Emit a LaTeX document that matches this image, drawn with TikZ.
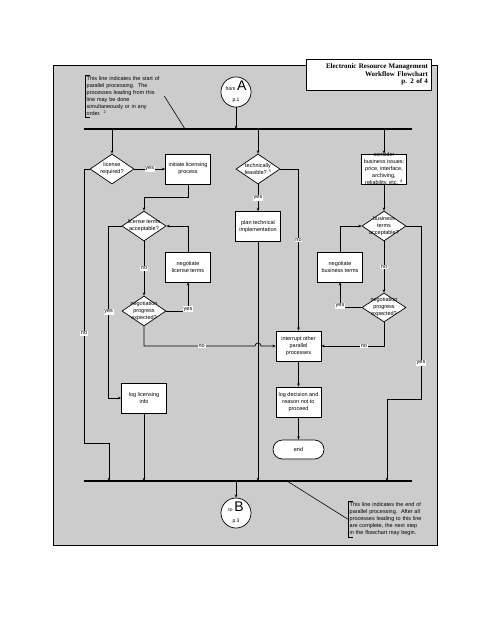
\documentclass[tikz,border=0pt]{standalone}
\usepackage{fontspec}
\setmainfont{Liberation Sans}
\newfontfamily\titlefont{Liberation Serif}
\usetikzlibrary{shapes.geometric,arrows.meta}

\definecolor{panelgray}{RGB}{204,204,204}
\newcommand{\smalltxt}{\fontsize{5.5}{7}\selectfont}
\newcommand{\tinytxt}{\fontsize{5}{6}\selectfont}
\newcommand{\bigletter}{\fontsize{14}{14}\selectfont}

\tikzset{
  box/.style={draw, fill=white, line width=0.7pt, minimum width=45pt, minimum height=30pt, inner sep=1pt, align=center, font=\smalltxt},
  decision/.style={diamond, draw, fill=white, line width=0.7pt, minimum width=44pt, minimum height=30pt, inner sep=0pt},
  inside/.style={font=\smalltxt, align=center, inner sep=0pt},
  lbl/.style={fill=white, inner sep=0.8pt, font=\smalltxt},
  arr/.style={-{Stealth[length=3.2pt,width=2.6pt]}, line width=0.7pt},
  bar/.style={line width=1.6pt},
  connector/.style={circle, draw, fill=white, line width=0.7pt, minimum size=30pt, inner sep=0pt, align=center},
  note/.style={font=\smalltxt, align=left, inner sep=1.5pt, anchor=north west},
}

\begin{document}
\begin{tikzpicture}[x=1pt, y=-1pt]
  % 全体の範囲
  \useasboundingbox (0,0) rectangle (495,640);

  % 灰色の背景
  \filldraw[fill=panelgray, draw=black, line width=0.8pt] (53,65) rectangle (437,545);

  % タイトル
  \node[draw, fill=white, line width=0.8pt, minimum width=125pt, minimum height=31pt,
        text width=119pt, align=right, inner sep=3pt,
        font=\titlefont\bfseries\fontsize{7}{7.5}\selectfont] (title) at (368.5,74.5)
        {Electronic Resource Management\\Workflow Flowchart\\p. 2 of 4};

  % 並列処理の線(上と下)
  \coordinate (tbL) at (84,129);
  \coordinate (tbR) at (412,129);
  \coordinate (bbL) at (84,481);
  \coordinate (bbR) at (412,481);
  \draw[bar] (tbL) -- (tbR);
  \draw[bar] (bbL) -- (bbR);

  % 接続記号
  \node[connector] (fromA) at (236,92) {{\tinytxt from}\,{\bigletter A}\\[-1pt]{\tinytxt p.1}};
  \node[connector] (toB) at (236,513) {{\tinytxt to}\,{\bigletter B}\\[-1pt]{\tinytxt p.3}};

  % 説明文
  \node[note, text width=76pt] (startnote) at (85,75)
    {This line indicates the start of\\parallel processing.\ \ The\\processes leading from this\\line may be done\\simultaneously or in any\\order. \textsuperscript{2}};
  \node[note, text width=82pt] (endnote) at (348,501)
    {This line indicates the end of\\parallel processing.\ \ After all\\processes leading to this line\\are complete, the next step\\in the flowchart may begin.};
  \draw[line width=0.7pt] ([xshift=5pt]startnote.north west) -- (startnote.north west) -- (startnote.south west) -- ([xshift=5pt]startnote.south west);
  \draw[line width=0.7pt] ([xshift=5pt]endnote.north west) -- (endnote.north west) -- (endnote.south west) -- ([xshift=5pt]endnote.south west);
  \coordinate (sbar) at (185,129);
  \coordinate (ebar) at (287,481);
  \draw[line width=0.6pt] (startnote.east) -- (sbar);
  \draw[line width=0.6pt] (endnote.west) -- (ebar);

  % ライセンスの列
  \node[decision, label={[inside]center:{license\\required?}}] (lreq) at (112,169) {};
  \node[box] (initlic) at (188,169) {initiate licensing\\process};
  \node[decision, label={[inside]center:{license terms\\acceptable?}}] (ltacc) at (144,226) {};
  \node[box] (neglic) at (188,267) {negotiate\\license terms};
  \node[decision, label={[inside]center:{negotiation\\progress\\expected?}}] (np1) at (144,311) {};
  \node[box] (loglic) at (144,398) {log licensing\\info};

  % 技術の列
  \node[decision, label={[inside]center:{technically\\feasible? \textsuperscript{3}}}] (techf) at (258,169) {};
  \node[box] (plantech) at (258,226.5) {plan technical\\implementation};
  \node[box] (interrupt) at (298.5,346) {interrupt other\\parallel\\processes};
  \node[box] (logdec) at (298.5,402) {log decision and\\reason not to\\proceed};
  \node[box, rounded corners=9.5pt, minimum width=51pt, minimum height=19pt] (endnode) at (298.5,449.5) {end};

  % ビジネスの列
  \node[box, label={[inside]center:{consider\\business issues:\\price, interface,\\archiving,\\reliability, etc. \textsuperscript{4}}}] (consider) at (384,169) {};
  \node[decision, label={[inside]center:{business\\terms\\acceptable?}}] (btacc) at (384,226) {};
  \node[box] (negbus) at (340,267) {negotiate\\business terms};
  \node[decision, minimum height=29pt, label={[inside]center:{negotiation\\progress\\expected?}}] (np2) at (384,307.5) {};

  % 上の線からの矢印
  \draw[arr] (fromA) -- (fromA |- tbL);
  \draw[arr] (lreq.north |- tbL) -- (lreq.north);
  \draw[arr] (techf.north |- tbL) -- (techf.north);
  \draw[arr] (consider.north |- tbL) -- (consider.north);

  % ライセンスの矢印
  \draw[arr] (lreq.east) -- (initlic.west) node[lbl, midway]{yes};
  \draw[arr] (initlic.south) -- ++(0,13) -| (ltacc.north);
  \draw[arr] (lreq.west) -| (84,443) node[lbl, pos=0.8]{no} -| (109,481);
  \draw[arr] (ltacc.west) -- ++(-13,0) |- (loglic.west) node[lbl, pos=0.25]{yes};
  \draw[arr] (ltacc.south) -- (np1.north) node[lbl, midway]{no};
  \draw[arr] (np1.east) -| (neglic.south) node[lbl, pos=0.53]{yes};
  \draw[arr] (neglic.north) |- (ltacc.east);
  \draw[arr] (np1.south) |- (255,346) node[lbl, pos=0.76]{no}
    arc[start angle=180, end angle=360, radius=3] -- (interrupt.west);
  \draw[arr] (loglic.south) -- (loglic.south |- bbL);

  % 技術の矢印
  \draw[arr] (techf.south) -- (plantech.north) node[lbl, midway]{yes};
  \draw[arr] (techf.east) -| (interrupt.north) node[lbl, pos=0.72]{no};
  \draw[arr] (plantech.south) -- (plantech.south |- bbL);
  \draw[arr] (interrupt.south) -- (logdec.north);
  \draw[arr] (logdec.south) -- (endnode.north);

  % ビジネスの矢印
  \draw[arr] (consider.south) -- (btacc.north);
  \draw[arr] (negbus.north) |- (btacc.west);
  \draw[arr] (btacc.south) -- (np2.north) node[lbl, midway]{no};
  \draw[arr] (np2.west) -| (negbus.south) node[lbl, pos=0.53]{yes};
  \draw[arr] (np2.south) |- (interrupt.east) node[lbl, pos=0.66]{no};
  \draw[arr] (btacc.east) -- (421,226) -- (421,399) node[lbl, pos=0.79]{yes} -- (387,399) -- (387,481);

  % 下の線からの矢印
  \draw[arr] (toB.north |- bbL) -- (toB.north);
\end{tikzpicture}
\end{document}
